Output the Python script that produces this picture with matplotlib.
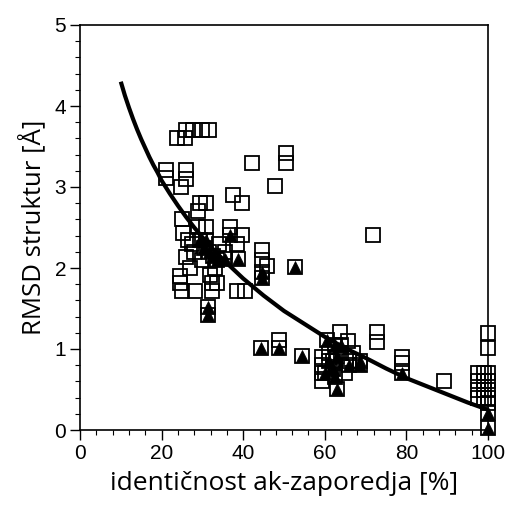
import matplotlib
matplotlib.use("Agg")
import matplotlib.pyplot as plt
from matplotlib.ticker import MultipleLocator

plt.rcParams['font.family'] = ['Liberation Sans', 'DejaVu Sans']

# open squares (x = sequence identity %, y = RMSD Å)
sq_x = [26.1, 27.8, 29.8, 31.5, 23.7, 25.7,
        21.0, 21.0, 25.9, 25.9, 24.8,
        42.2, 50.6, 50.6, 47.9, 37.5, 39.7,
        29.5, 30.9, 29.0, 24.9, 71.8,
        25.3, 26.5, 26.1, 29.0, 31.0, 36.8, 39.6, 38.4,
        44.7, 44.7, 45.9,
        24.4, 24.4, 24.9, 28.3, 31.9, 32.3, 33.6, 32.3, 38.4, 40.4,
        27.5, 28.0, 27.0, 33.0, 34.0, 35.5, 30.0,
        48.7, 63.7, 72.7, 72.7, 78.9, 78.9,
        59.4, 59.4, 59.4, 59.4, 61.0, 62.0, 64.0, 65.8, 66.0, 67.0, 65.0,
        89.2,
        100, 100, 97.5, 99, 100, 97.5, 99, 100, 97.5, 99, 100, 97.5, 99, 100, 100]
sq_y = [3.70, 3.70, 3.70, 3.70, 3.60, 3.60,
        3.21, 3.11, 3.21, 3.10, 3.00,
        3.30, 3.42, 3.30, 3.01, 2.90, 2.80,
        2.80, 2.80, 2.70, 2.61, 2.41,
        2.43, 2.35, 2.13, 2.51, 2.51, 2.51, 2.41, 2.30,
        2.22, 2.10, 2.02,
        1.90, 1.81, 1.71, 1.71, 1.91, 1.81, 1.81, 1.71, 1.71, 1.71,
        2.30, 2.20, 2.00, 2.00, 2.30, 2.20, 2.10,
        1.11, 1.21, 1.21, 1.09, 0.90, 0.83,
        0.90, 0.80, 0.70, 0.60, 0.95, 0.85, 0.95, 1.10, 0.85, 0.95, 0.70,
        0.60,
        1.20, 1.01, 0.70, 0.70, 0.70, 0.60, 0.60, 0.60, 0.50, 0.50, 0.50, 0.40, 0.40, 0.40, 0.33]

# filled triangles (each sits inside a square)
tri_x = [29.5, 30.5, 31.5, 32.5, 33.5, 31.0,
         36.8, 35.5, 38.8,
         44.7, 44.7, 52.7,
         31.4, 31.4,
         44.3, 48.7, 54.5,
         60.5, 62.5, 64.0, 61.0, 62.0, 60.0, 62.5, 63.0, 68.6, 68.6, 66.0,
         63.1, 78.9,
         100, 100]
tri_y = [2.35, 2.25, 2.20, 2.15, 2.10, 2.35,
         2.41, 2.11, 2.11,
         1.95, 1.88, 2.01,
         1.52, 1.42,
         1.01, 1.01, 0.91,
         1.11, 1.05, 1.05, 0.85, 0.75, 0.70, 0.65, 0.90, 0.85, 0.80, 0.80,
         0.51, 0.70,
         0.21, 0.02]

# fitted curve
curve_x = [10, 11, 12, 13, 14, 15, 16, 17, 18, 19, 20, 22, 24, 26, 28, 30,
           33, 36, 40, 45, 50, 55, 60, 65, 70, 75, 80, 85, 90, 95, 100]
curve_y = [4.30, 4.13, 3.98, 3.84, 3.71, 3.59, 3.48, 3.37, 3.27, 3.18, 3.08,
           2.92, 2.77, 2.63, 2.50, 2.38, 2.21, 2.06, 1.87, 1.66, 1.47, 1.31,
           1.15, 1.01, 0.89, 0.76, 0.64, 0.54, 0.44, 0.34, 0.25]

xticks = [0, 20, 40, 60, 80, 100]
yticks = [0, 1, 2, 3, 4, 5]

fig = plt.figure(figsize=(5.07, 5.09), dpi=100)
ax = fig.add_axes([80/507, 79/509, 408/507, 405/509])

ax.plot(sq_x + tri_x, sq_y + tri_y, linestyle='none', marker='s', ms=9.8,
        mfc='none', mec='black', mew=1.3, clip_on=False, zorder=3)
ax.plot(tri_x, tri_y, linestyle='none', marker='^', ms=8.8,
        mfc='black', mec='black', mew=0.5, clip_on=False, zorder=4)
ax.plot(curve_x, curve_y, color='black', lw=3.0, solid_capstyle='butt',
        solid_joinstyle='round', zorder=5)

ax.set_xlim(0, 100)
ax.set_ylim(0, 5)
ax.set_xticks(xticks)
ax.set_yticks(yticks)
ax.xaxis.set_minor_locator(MultipleLocator(4))
ax.yaxis.set_minor_locator(MultipleLocator(0.2))
ax.tick_params(which='major', direction='out', length=7, width=1.0,
               labelsize=15, pad=3, top=False, right=False)
ax.tick_params(which='minor', direction='out', length=3.5, width=0.8,
               top=False, right=False)
for sp in ax.spines.values():
    sp.set_linewidth(1.2)

ax.set_xlabel('identičnost ak-zaporedja [%]', family='Open Sans', fontsize=19, labelpad=6)
ax.set_ylabel('RMSD struktur [Å]', family='Open Sans', fontsize=18.5, labelpad=6)

fig.savefig('out.png', dpi=100)
